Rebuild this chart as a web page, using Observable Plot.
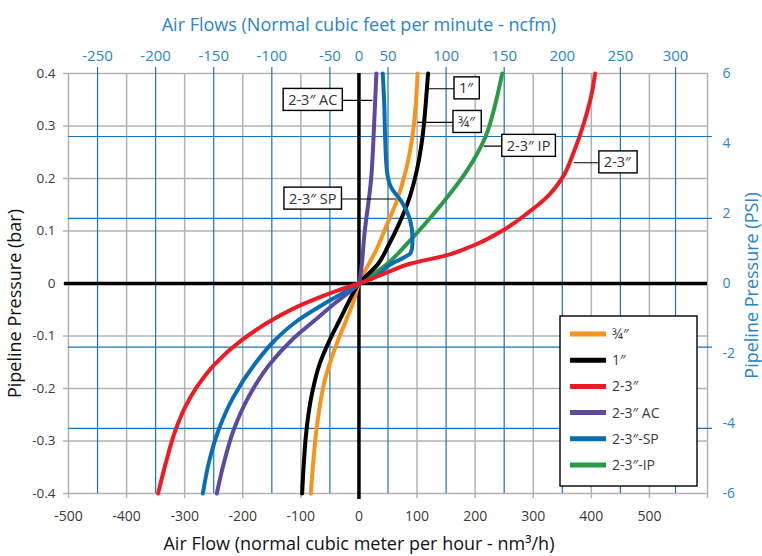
<!DOCTYPE html>
<html><head><meta charset="utf-8">
<script src="https://cdn.jsdelivr.net/npm/d3@7"></script>
<script src="https://cdn.jsdelivr.net/npm/@observablehq/plot@0.6"></script>
<style>
body{margin:0;background:#fff;}
#chart svg{display:block;}
</style>
</head><body><div id="chart"></div>
<script>
// ---------- data ----------
const seriesNames = ["¾″", "1″", "2-3″", "2-3″ AC", "2-3″-SP", "2-3″-IP"];
const seriesColors = ["#f7941d", "#000000", "#ed1c24", "#5b4a9e", "#0a6db5", "#2a9a47"];

// flow in nm³/h, pressure in bar
const flow34 = [-83, -79, -73.3, -64.7, -59, -50.5, -36, -22, -10.5, 0, 32.4, 46.6, 63.7, 81, 92, 98, 101];
const bar34  = [-0.4, -0.344, -0.28, -0.216, -0.185, -0.153, -0.108, -0.07, -0.038, 0, 0.07, 0.108, 0.153, 0.216, 0.28, 0.343, 0.4];

const flow1 = [-97.8, -95, -90.4, -82, -67.6, -50.5, -33.4, -19, 0, 33.5, 49.5, 66.6, 83.8, 99.7, 109.5, 115, 119];
const bar1  = [-0.4, -0.344, -0.28, -0.216, -0.153, -0.108, -0.07, -0.038, 0, 0.038, 0.07, 0.108, 0.153, 0.216, 0.28, 0.343, 0.4];

const flow23 = [-345.8, -333, -316, -299, -279, -247.6, -201.8, -150.4, -93.4, -36, 0, 43.8, 89, 152, 192, 249, 289, 324, 351, 369, 389, 402, 406.5];
const bar23  = [-0.4, -0.344, -0.28, -0.235, -0.197, -0.153, -0.108, -0.07, -0.038, -0.013, 0, 0.019, 0.038, 0.054, 0.07, 0.102, 0.133, 0.165, 0.203, 0.248, 0.312, 0.369, 0.4];

const flowAC = [-244.7, -233, -216, -190, -153, -116, -76, -42, -13, 0, 10, 21, 26, 30];
const barAC  = [-0.4, -0.344, -0.28, -0.216, -0.153, -0.108, -0.07, -0.038, -0.013, 0, 0.1, 0.2, 0.3, 0.4];

const flowSP = [-268.7, -259, -242, -216, -179, -144.8, -104.8, -59, -19, 0, 20, 54, 78, 89, 92, 92, 88, 75, 55, 48, 45, 43.5, 41];
const barSP  = [-0.4, -0.344, -0.28, -0.216, -0.153, -0.108, -0.07, -0.038, -0.013, 0, 0.008, 0.036, 0.05, 0.058, 0.075, 0.089, 0.121, 0.153, 0.184, 0.216, 0.28, 0.343, 0.4];

const flowIP = [0, 49.5, 78, 109.4, 143.7, 186.5, 218, 235, 246.5];
const barIP  = [0, 0.038, 0.07, 0.108, 0.153, 0.216, 0.28, 0.343, 0.4];

// axes
const xTicks = [-500, -400, -300, -200, -100, 0, 100, 200, 300, 400, 500, 600];
const xTickLabels = ["-500", "-400", "-300", "-200", "-100", "0", "100", "200", "300", "400", "500", ""];
const yTicks = [-0.4, -0.3, -0.2, -0.1, 0, 0.1, 0.2, 0.3, 0.4];
const yTickLabels = ["-0.4", "-0.3", "-0.2", "-0.1", "0", "0.1", "0.2", "0.3", "0.4"];
const ncfmTickPos = [-450, -350, -250, -150, -50, 0, 50, 150, 250, 350, 450, 545];
const ncfmTickLabels = ["-250", "-200", "-150", "-100", "-50", "0", "50", "100", "150", "200", "250", "300"];
const ncfmGridPos = [-450, -350, -250, -150, -50, 50, 150, 250, 350, 450, 545];
const psiTickPos = [0.4, 0.2667, 0.1333, 0, -0.1333, -0.2667, -0.4];
const psiTickLabels = ["6", "4", "2", "0", "-2", "-4", "-6"];
const psiGridPos = [0.28, 0.124, -0.121, -0.276];

// callouts
const calloutLabels = ["2-3″ AC", "2-3″ SP", "1″", "¾″", "2-3″ IP", "2-3″"];
const calloutBoxX   = [-79.6, -79.6, 184.4, 185.2, 292, 444.9];
const calloutBoxY   = [0.349, 0.161, 0.371, 0.307, 0.2615, 0.23];
const calloutCurveX = [23, 63, 119.7, 100.3, 215, 370];

const titleTop = "Air Flows (Normal cubic feet per minute - ncfm)";
const titleBottom = "Air Flow (normal cubic meter per hour - nm³/h)";
const titleLeft = "Pipeline Pressure (bar)";
const titleRight = "Pipeline Pressure (PSI)";

// ---------- build ----------
const seriesData = [
  [flowIP, barIP, 5], [flow34, bar34, 0], [flow1, bar1, 1],
  [flowAC, barAC, 3], [flowSP, barSP, 4], [flow23, bar23, 2]
];
const rows = [];
for (const [fx, by, k] of seriesData) {
  fx.forEach((f, i) => rows.push({series: seriesNames[k], flow: f, bar: by[i]}));
}
const callouts = calloutLabels.map((t, i) => ({label: t, bx: calloutBoxX[i], by: calloutBoxY[i], cx: calloutCurveX[i]}));
const xLab = new Map(xTicks.map((d, i) => [d, xTickLabels[i]]));
const yLab = new Map(yTicks.map((d, i) => [d, yTickLabels[i]]));
const ncfmLab = new Map(ncfmTickPos.map((d, i) => [d, ncfmTickLabels[i]]));
const psiLab = new Map(psiTickPos.map((d, i) => [d, psiTickLabels[i]]));

const gray = "#b3b3b3", blueLine = "#1a73bd", blueText = "#2b85c6", dark = "#3a3a3a";
const FONT = "'Open Sans', sans-serif";

const plot = Plot.plot({
  width: 762, height: 556,
  marginLeft: 68, marginRight: 55, marginTop: 73, marginBottom: 63,
  style: {fontFamily: FONT, background: "#fff"},
  x: {domain: [-500, 600], axis: null},
  y: {domain: [-0.4, 0.4], axis: null},
  color: {domain: seriesNames, range: seriesColors},
  marks: [
    Plot.ruleX(xTicks, {stroke: gray, strokeWidth: 1.5, insetBottom: -5}),
    Plot.ruleY(yTicks, {stroke: gray, strokeWidth: 1.5, insetLeft: -5}),
    Plot.ruleX(ncfmGridPos, {stroke: blueLine, strokeWidth: 1.2, insetTop: -6}),
    Plot.ruleY(psiGridPos, {stroke: blueLine, strokeWidth: 1.2, insetRight: -5}),
    Plot.ruleY([0], {stroke: "#000", strokeWidth: 3.5, insetLeft: -4}),
    Plot.ruleX([0], {stroke: "#000", strokeWidth: 3.5, insetBottom: -6}),
    Plot.axisX({anchor: "bottom", ticks: xTicks, tickSize: 0, tickPadding: 18, tickFormat: d => xLab.get(d), fill: dark, fontSize: 14, label: null}),
    Plot.axisY({anchor: "left", ticks: yTicks, tickSize: 0, tickPadding: 13, tickFormat: d => yLab.get(d), fill: dark, fontSize: 13.5, label: null}),
    Plot.axisX({anchor: "top", ticks: ncfmTickPos, tickSize: 0, tickPadding: 13, tickFormat: d => ncfmLab.get(d), fill: blueText, fontSize: 15, label: null}),
    Plot.axisY({anchor: "right", ticks: psiTickPos, tickSize: 0, tickPadding: 15, tickFormat: d => psiLab.get(d), fill: blueText, fontSize: 14, label: null}),
    Plot.line(rows, {x: "flow", y: "bar", z: "series", stroke: "series", strokeWidth: 4, curve: "monotone-y"}),
    Plot.link(callouts, {x1: "bx", x2: "cx", y1: "by", y2: "by", stroke: "#000", strokeWidth: 1.2}),
    Plot.text(callouts, {x: "bx", y: "by", text: "label", fill: "#333333", fontSize: 14.5}),
    Plot.text([titleTop], {x: () => 0, frameAnchor: "top", dy: -55, fill: blueText, fontSize: 18}),
    Plot.text([titleBottom], {x: () => 0, frameAnchor: "bottom", dy: 56, fill: "#111", fontSize: 18}),
    Plot.text([titleLeft], {frameAnchor: "left", textAnchor: "middle", rotate: -90, dx: -53, dy: 20, fill: "#111", fontSize: 18}),
    Plot.text([titleRight], {frameAnchor: "right", textAnchor: "middle", rotate: -90, dx: 45, dy: 2, fill: blueText, fontSize: 18})
  ]
});
document.getElementById("chart").appendChild(plot);

// boxes behind callout texts
const svg = d3.select(plot);
const calloutSet = new Set(calloutLabels);
svg.selectAll("text").filter(function() {
  return calloutSet.has(this.textContent) && this.getAttribute("transform") && !this.closest('[aria-label$="axis"]');
}).each(function() {
  const b = this.getBBox();
  const t = this.getAttribute("transform");
  d3.select(this.parentNode).insert("rect", () => this)
    .attr("x", b.x - 5).attr("y", b.y - 1.5).attr("width", b.width + 10).attr("height", b.height + 3)
    .attr("transform", t)
    .attr("fill", "#fff").attr("stroke", "#000").attr("stroke-width", 1.4);
});

// legend
const lg = svg.append("g").attr("font-family", FONT).attr("font-size", 14).attr("text-anchor", "start");
lg.append("rect").attr("x", 560).attr("y", 316).attr("width", 137).attr("height", 170)
  .attr("fill", "#fff").attr("stroke", "#000").attr("stroke-width", 1.4);
seriesNames.forEach((name, i) => {
  const y = 334 + i * 26.2;
  lg.append("line").attr("x1", 570).attr("x2", 606).attr("y1", y).attr("y2", y)
    .attr("stroke", seriesColors[i]).attr("stroke-width", 5);
  lg.append("text").attr("x", 612).attr("y", y).attr("dy", "0.35em").attr("fill", dark).text(name);
});
</script>
</body></html>
